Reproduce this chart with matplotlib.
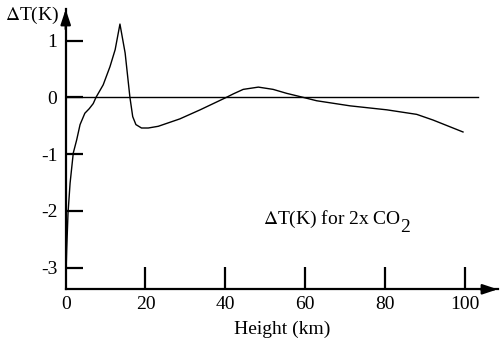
import matplotlib
matplotlib.use("Agg")
import matplotlib.pyplot as plt

# data
height_km = [0.08, 0.25, 0.58, 1.1, 1.9, 2.75, 3.6, 4.8, 5.9, 6.9, 7.6, 9.4, 11.1, 12.4, 13.6,
             14.9, 16.1, 16.8, 17.6, 19.0, 20.7, 23.2, 28.6, 33.7, 40.3, 42.0, 44.5, 48.3,
             52.0, 55.4, 59.5, 62.9, 71.3, 80.5, 88.0, 92.1, 99.6]
delta_t = [-3.09, -2.68, -2.04, -1.51, -0.98, -0.75, -0.48, -0.28, -0.2, -0.11, 0.0, 0.22, 0.54, 0.84, 1.29,
           0.78, 0.0, -0.34, -0.48, -0.54, -0.54, -0.51, -0.38, -0.22, 0.0, 0.06, 0.14, 0.18,
           0.14, 0.07, 0.0, -0.06, -0.15, -0.22, -0.3, -0.4, -0.61]
x_ticks = [20, 40, 60, 80, 100]
x_labels = ["20", "40", "60", "80", "100"]
y_ticks = [1, 0, -1, -2, -3]
y_labels = ["1", "0", "-1", "-2", "-3"]

plt.rcParams['font.family'] = ['Liberation Serif', 'DejaVu Serif']

fig = plt.figure(figsize=(5.04, 3.38), dpi=100)
ax = fig.add_axes([65.7 / 504, (338 - 289.3) / 338, 432 / 504, 280 / 338])
ax.set_xlim(0, 108.3)
ax.set_ylim(-3.38, 1.55)

for s in ["top", "right"]:
    ax.spines[s].set_visible(False)
for s in ["left", "bottom"]:
    ax.spines[s].set_linewidth(1.6)

# axis arrows
arrow = dict(arrowstyle="-|>,head_width=0.3,head_length=0.9", lw=1.6, color="black",
             shrinkA=0, shrinkB=0)
ax.annotate("", xy=(108.3, -3.38), xytext=(104, -3.38), arrowprops=arrow, annotation_clip=False)
ax.annotate("", xy=(0, 1.55), xytext=(0, 1.2), arrowprops=arrow, annotation_clip=False)

ax.set_xticks(x_ticks)
ax.set_xticklabels(x_labels)
ax.set_yticks(y_ticks)
ax.set_yticklabels(y_labels)
ax.tick_params(axis="x", direction="in", length=16, width=1.6, labelsize=14, pad=5)
ax.tick_params(axis="y", direction="in", length=12, width=1.6, labelsize=14, pad=6)
ax.text(0, -3.38, "0", ha="center", va="top", fontsize=14,
        transform=ax.transData + matplotlib.transforms.ScaledTranslation(0, -5 / 72, fig.dpi_scale_trans))

# zero line and curve
ax.plot([0, 103.4], [0, 0], color="black", lw=1.0)
ax.plot(height_km, delta_t, color="black", lw=1.0)

ax.set_xlabel("Height (km)", fontsize=14, labelpad=5)
fig.text(5 / 504, 1 - 15 / 338, r"$\Delta$T(K)", fontsize=14, va="center", ha="left",
         math_fontfamily="stix")
t = ax.text(49.4, -2.23, r"$\Delta$T(K) for 2x CO", fontsize=14, va="baseline", ha="left",
            math_fontfamily="stix")
ax.annotate("2", xy=(1, 0), xycoords=t, xytext=(-0.8, -4), textcoords="offset points",
            fontsize=14, va="bottom", ha="left")

fig.savefig("out.png", dpi=100)
